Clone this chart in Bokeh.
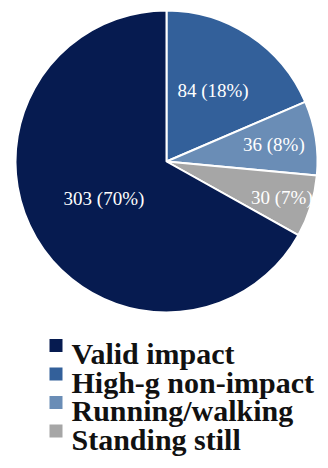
import math
from bokeh.plotting import figure
from bokeh.models import Range1d, ColumnDataSource
from bokeh.core.properties import value
from bokeh.embed import file_html
from bokeh.resources import INLINE

# data (clockwise from 12 o'clock)
categories = ["High-g non-impact", "Running/walking", "Standing still", "Valid impact"]
counts = [84, 36, 30, 303]
pct_labels = ["18%", "8%", "7%", "70%"]
colors = ["#33609A", "#6A8DB6", "#A6A6A6", "#061B50"]
legend_order = ["Valid impact", "High-g non-impact", "Running/walking", "Standing still"]

W, H = 328, 468
p = figure(width=W, height=H, output_backend="svg", toolbar_location=None,
           x_range=Range1d(0, W), y_range=Range1d(0, H), min_border=0)
p.axis.visible = False
p.grid.visible = False
p.outline_line_color = None
p.background_fill_color = "white"

SERIF = "Liberation Serif"

cx, cy, R = 166, H - 161, 151
total = sum(counts)
starts, ends, lx, ly, texts = [], [], [], [], []
label_r = [0.56, 0.72, 0.80, 0.48]
cum = 0
for i, c in enumerate(counts):
    a0 = math.pi / 2 - 2 * math.pi * cum / total
    cum += c
    a1 = math.pi / 2 - 2 * math.pi * cum / total
    starts.append(a0)
    ends.append(a1)
    mid = (a0 + a1) / 2
    lx.append(cx + label_r[i] * R * math.cos(mid))
    ly.append(cy + label_r[i] * R * math.sin(mid))
    texts.append(f"{c} ({pct_labels[i]})")

src = ColumnDataSource(dict(s=starts, e=ends, color=colors, lx=lx, ly=ly, t=texts))
p.wedge(x=cx, y=cy, radius=R, start_angle="s", end_angle="e", direction="clock",
        fill_color="color", line_color="white", line_width=2, source=src)
p.text(x="lx", y="ly", text="t", source=src, text_color="white",
       text_font=value(SERIF), text_font_size="19px",
       text_align="center", text_baseline="middle")

# legend
base0, step = H - 353, 28.5
leg_y = [base0 - i * step for i in range(len(legend_order))]
leg_col = [colors[categories.index(n)] for n in legend_order]
lsrc = ColumnDataSource(dict(y=leg_y, sy=[y + 8 for y in leg_y], c=leg_col, t=legend_order))
p.scatter(x=55.5, y="sy", marker="square", size=13, fill_color="c", line_color=None, source=lsrc)
p.text(x=71, y="y", text="t", source=lsrc, text_color="#111111",
       text_font=value(SERIF), text_font_style="bold", text_font_size="30px",
       text_align="left", text_baseline="alphabetic")

open("out.html", "w").write(file_html(p, INLINE))
